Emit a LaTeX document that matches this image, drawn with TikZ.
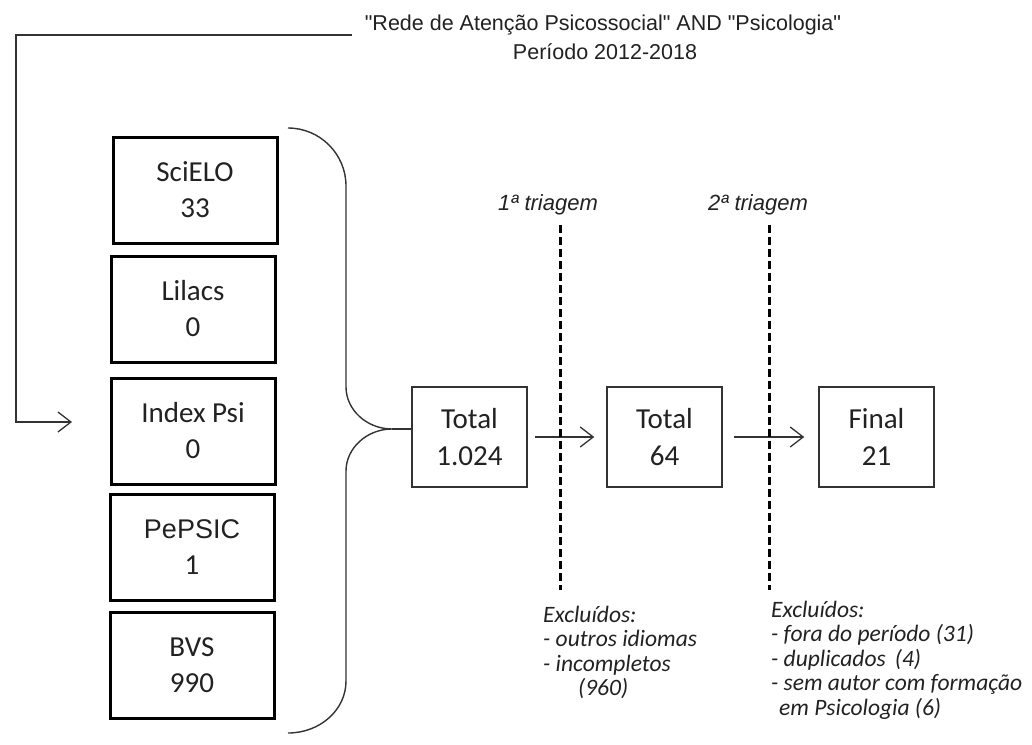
\documentclass[tikz,border=0pt]{standalone}
\usepackage{fontspec}
\setmainfont{Liberation Sans}
\newfontfamily\ttl{Liberation Sans}[Ligatures=TeXOff]
\newfontfamily\carl{Carlito}
\usetikzlibrary{arrows.meta}
\definecolor{ln}{HTML}{333333}
\definecolor{txt}{HTML}{222222}
\begin{document}
\begin{tikzpicture}[x=1pt,y=-1pt,
  srcbox/.style={draw=black, line width=3pt, minimum width=164pt, minimum height=106pt, inner sep=0pt, align=center, text=txt, font=\carl\fontsize{29}{36}\selectfont},
  flowbox/.style={draw=ln, line width=1.5pt, minimum width=115pt, minimum height=100pt, inner sep=0pt, align=center, text=txt, font=\carl\fontsize{29}{37}\selectfont},
  arr/.style={draw=ln, line width=1.3pt, -{Straight Barb[length=13pt,width=20pt,line width=1.3pt]}},
  cut/.style={draw=black, line width=3pt, dash pattern=on 8pt off 4pt},
  note/.style={anchor=base west, align=left, text=txt, font=\carl\itshape\fontsize{23.5}{24.5}\selectfont, inner sep=0pt},
  stage/.style={anchor=base, text=txt, font=\itshape\fontsize{22}{24}\selectfont, inner sep=0pt}
]
\fill[white] (0,0) rectangle (1032,744);
\useasboundingbox (0,0) rectangle (1032,744);

% title
\node[text=txt, font=\ttl\fontsize{21.5}{26}\selectfont, inner sep=0pt] (t1) at (603,25) {"Rede de Atenção Psicossocial" AND "Psicologia"};
\node[text=txt, font=\ttl\fontsize{21.5}{26}\selectfont, inner sep=0pt] (t2) at (605,52) {Período 2012-2018};

% source boxes
\node[srcbox] (scielo) at (195,190) {SciELO\\33};
\node[srcbox] (lilacs) at (193,309) {Lilacs\\0};
\node[srcbox] (index) at (193,431) {Index Psi\\0};
\node[srcbox, font=\fontsize{27}{36}\selectfont] (pepsic) at (192,547) {PePSIC\\\carl\fontsize{29}{36}\selectfont 1};
\node[srcbox] (bvs) at (192,665) {BVS\\990};

% feedback connector from title
\coordinate (c1) at (352,35);
\coordinate (c2) at (16,35);
\coordinate (c3) at (16,422);
\coordinate (c4) at (72,422);
\draw[arr] (c1) -- (c2) -- (c3) -- (c4);

% brace
\coordinate (tip) at (392,429);
\draw[ln, line width=1.4pt] (288,128) .. controls (320,128) and (346,154) .. (346,186)
  -- (346,387) .. controls (346,410) and (367,429) .. (tip)
  .. controls (367,429) and (346,448) .. (346,471)
  -- (346,681) .. controls (346,710) and (320,733) .. (288,733);

% flow boxes
\node[flowbox] (tot1) at (469.5,437) {Total\\1.024};
\node[flowbox] (tot2) at (664.5,437) {Total\\64};
\node[flowbox] (fin) at (876.5,437) {Final\\21};

\draw[ln, line width=1.4pt] (tip) -- (tot1.west |- tip);
\draw[arr, shorten <=7pt, shorten >=12pt] (tot1.east) -- (tot2.west);
\draw[arr, shorten <=11pt, shorten >=14pt] (tot2.east) -- (fin.west);

% screening lines
\coordinate (d1a) at (560,225);
\coordinate (d1b) at (560,590);
\coordinate (d2a) at (769,225);
\coordinate (d2b) at (769,590);
\draw[cut] (d1a) -- (d1b);
\draw[cut] (d2a) -- (d2b);

\node[stage] (s1) at (548,210) {1ª triagem};
\node[stage] (s2) at (758,210) {2ª triagem};

% notes
\node[note] (n1) at (543,695.5) {Excluídos:\\- outros idiomas\\- incompletos\\\hspace*{35pt}(960)};
\node[note] (n2) at (771,715) {Excluídos:\\- fora do período (31)\\- duplicados\, (4)\\- sem autor com formação\\\hspace*{8pt}em Psicologia (6)};
\end{tikzpicture}
\end{document}
